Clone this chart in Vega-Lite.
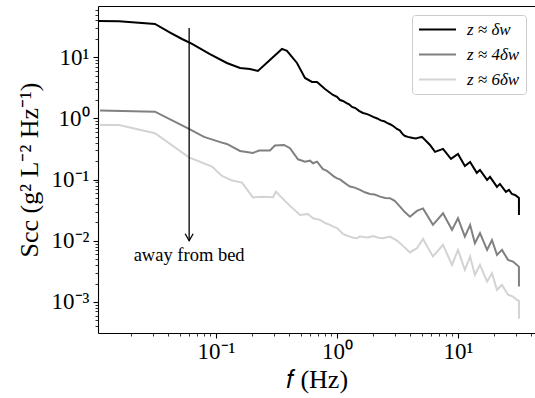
{
  "$schema": "https://vega.github.io/schema/vega-lite/v6.json",
  "width": 437,
  "height": 327,
  "autosize": {"type": "none"},
  "padding": {"left": 98, "top": 6, "right": 0, "bottom": 65},
  "config": {
    "font": "Liberation Serif",
    "view": {"stroke": null},
    "axis": {"grid": false, "domainColor": "black", "domainWidth": 1.1, "tickColor": "black", "labelColor": "black", "titleColor": "black", "labelFontSize": 23, "titleFontSize": 26, "titleFontWeight": "normal", "labelFont": "Liberation Serif", "titleFont": "Liberation Serif"}
  },
  "datasets": {
    "spec": [
      {"s": "z ≈ δw", "i": 1, "f": 0.0106, "S": 39.2},
      {"s": "z ≈ δw", "i": 2, "f": 0.0158, "S": 38.8},
      {"s": "z ≈ δw", "i": 3, "f": 0.0313, "S": 35.0},
      {"s": "z ≈ δw", "i": 4, "f": 0.0425, "S": 24.9},
      {"s": "z ≈ δw", "i": 5, "f": 0.0524, "S": 19.9},
      {"s": "z ≈ δw", "i": 6, "f": 0.0634, "S": 16.5},
      {"s": "z ≈ δw", "i": 7, "f": 0.0891, "S": 11.3},
      {"s": "z ≈ δw", "i": 8, "f": 0.123, "S": 8.07},
      {"s": "z ≈ δw", "i": 9, "f": 0.158, "S": 6.68},
      {"s": "z ≈ δw", "i": 10, "f": 0.191, "S": 6.44},
      {"s": "z ≈ δw", "i": 11, "f": 0.222, "S": 5.97},
      {"s": "z ≈ δw", "i": 12, "f": 0.279, "S": 9.03},
      {"s": "z ≈ δw", "i": 13, "f": 0.351, "S": 13.7},
      {"s": "z ≈ δw", "i": 14, "f": 0.386, "S": 12.7},
      {"s": "z ≈ δw", "i": 15, "f": 0.467, "S": 8.07},
      {"s": "z ≈ δw", "i": 16, "f": 0.544, "S": 4.59},
      {"s": "z ≈ δw", "i": 17, "f": 0.621, "S": 3.95},
      {"s": "z ≈ δw", "i": 18, "f": 0.684, "S": 3.95},
      {"s": "z ≈ δw", "i": 19, "f": 0.796, "S": 3.03},
      {"s": "z ≈ δw", "i": 20, "f": 0.927, "S": 2.42},
      {"s": "z ≈ δw", "i": 21, "f": 1.0, "S": 2.25},
      {"s": "z ≈ δw", "i": 22, "f": 1.06, "S": 2.0},
      {"s": "z ≈ δw", "i": 23, "f": 1.12, "S": 1.93},
      {"s": "z ≈ δw", "i": 24, "f": 1.2, "S": 1.78},
      {"s": "z ≈ δw", "i": 25, "f": 1.26, "S": 1.70},
      {"s": "z ≈ δw", "i": 26, "f": 1.33, "S": 1.54},
      {"s": "z ≈ δw", "i": 27, "f": 1.42, "S": 1.48},
      {"s": "z ≈ δw", "i": 28, "f": 1.52, "S": 1.33},
      {"s": "z ≈ δw", "i": 29, "f": 1.64, "S": 1.23},
      {"s": "z ≈ δw", "i": 30, "f": 1.75, "S": 1.19},
      {"s": "z ≈ δw", "i": 31, "f": 1.86, "S": 1.13},
      {"s": "z ≈ δw", "i": 32, "f": 1.99, "S": 1.06},
      {"s": "z ≈ δw", "i": 33, "f": 2.15, "S": 1.0},
      {"s": "z ≈ δw", "i": 34, "f": 2.3, "S": 0.93},
      {"s": "z ≈ δw", "i": 35, "f": 2.45, "S": 0.90},
      {"s": "z ≈ δw", "i": 36, "f": 2.59, "S": 0.844},
      {"s": "z ≈ δw", "i": 37, "f": 2.8, "S": 0.79},
      {"s": "z ≈ δw", "i": 38, "f": 2.95, "S": 0.74},
      {"s": "z ≈ δw", "i": 39, "f": 3.13, "S": 0.673},
      {"s": "z ≈ δw", "i": 40, "f": 3.3, "S": 0.64},
      {"s": "z ≈ δw", "i": 41, "f": 3.5, "S": 0.55},
      {"s": "z ≈ δw", "i": 42, "f": 3.65, "S": 0.517},
      {"s": "z ≈ δw", "i": 43, "f": 3.85, "S": 0.50},
      {"s": "z ≈ δw", "i": 44, "f": 4.05, "S": 0.49},
      {"s": "z ≈ δw", "i": 45, "f": 4.25, "S": 0.480},
      {"s": "z ≈ δw", "i": 46, "f": 4.5, "S": 0.47},
      {"s": "z ≈ δw", "i": 47, "f": 4.8, "S": 0.49},
      {"s": "z ≈ δw", "i": 48, "f": 5.04, "S": 0.499},
      {"s": "z ≈ δw", "i": 49, "f": 5.87, "S": 0.369},
      {"s": "z ≈ δw", "i": 50, "f": 6.46, "S": 0.284},
      {"s": "z ≈ δw", "i": 51, "f": 7.52, "S": 0.318},
      {"s": "z ≈ δw", "i": 52, "f": 8.75, "S": 0.218},
      {"s": "z ≈ δw", "i": 53, "f": 10.0, "S": 0.263},
      {"s": "z ≈ δw", "i": 54, "f": 11.4, "S": 0.167},
      {"s": "z ≈ δw", "i": 55, "f": 12.6, "S": 0.195},
      {"s": "z ≈ δw", "i": 56, "f": 14.3, "S": 0.129},
      {"s": "z ≈ δw", "i": 57, "f": 15.2, "S": 0.144},
      {"s": "z ≈ δw", "i": 58, "f": 17.4, "S": 0.0989},
      {"s": "z ≈ δw", "i": 59, "f": 18.4, "S": 0.111},
      {"s": "z ≈ δw", "i": 60, "f": 21.0, "S": 0.0760},
      {"s": "z ≈ δw", "i": 61, "f": 22.2, "S": 0.0851},
      {"s": "z ≈ δw", "i": 62, "f": 24.9, "S": 0.0630},
      {"s": "z ≈ δw", "i": 63, "f": 26.4, "S": 0.0679},
      {"s": "z ≈ δw", "i": 64, "f": 27.9, "S": 0.0583},
      {"s": "z ≈ δw", "i": 65, "f": 29.6, "S": 0.0562},
      {"s": "z ≈ δw", "i": 66, "f": 31.9, "S": 0.0502},
      {"s": "z ≈ δw", "i": 67, "f": 31.9, "S": 0.0265},

      {"s": "z ≈ 4δw", "i": 1, "f": 0.0110, "S": 1.35},
      {"s": "z ≈ 4δw", "i": 2, "f": 0.0313, "S": 1.29},
      {"s": "z ≈ 4δw", "i": 3, "f": 0.0598, "S": 0.673},
      {"s": "z ≈ 4δw", "i": 4, "f": 0.0796, "S": 0.499},
      {"s": "z ≈ 4δw", "i": 5, "f": 0.110, "S": 0.406},
      {"s": "z ≈ 4δw", "i": 6, "f": 0.123, "S": 0.383},
      {"s": "z ≈ 4δw", "i": 7, "f": 0.158, "S": 0.294},
      {"s": "z ≈ 4δw", "i": 8, "f": 0.202, "S": 0.273},
      {"s": "z ≈ 4δw", "i": 9, "f": 0.227, "S": 0.298},
      {"s": "z ≈ 4δw", "i": 10, "f": 0.279, "S": 0.300},
      {"s": "z ≈ 4δw", "i": 11, "f": 0.307, "S": 0.362},
      {"s": "z ≈ 4δw", "i": 12, "f": 0.365, "S": 0.369},
      {"s": "z ≈ 4δw", "i": 13, "f": 0.409, "S": 0.326},
      {"s": "z ≈ 4δw", "i": 14, "f": 0.476, "S": 0.215},
      {"s": "z ≈ 4δw", "i": 15, "f": 0.544, "S": 0.197},
      {"s": "z ≈ 4δw", "i": 16, "f": 0.598, "S": 0.204},
      {"s": "z ≈ 4δw", "i": 17, "f": 0.634, "S": 0.185},
      {"s": "z ≈ 4δw", "i": 18, "f": 0.684, "S": 0.197},
      {"s": "z ≈ 4δw", "i": 19, "f": 0.766, "S": 0.148},
      {"s": "z ≈ 4δw", "i": 20, "f": 0.82, "S": 0.140},
      {"s": "z ≈ 4δw", "i": 21, "f": 0.875, "S": 0.127},
      {"s": "z ≈ 4δw", "i": 22, "f": 0.94, "S": 0.113},
      {"s": "z ≈ 4δw", "i": 23, "f": 1.0, "S": 0.105},
      {"s": "z ≈ 4δw", "i": 24, "f": 1.06, "S": 0.101},
      {"s": "z ≈ 4δw", "i": 25, "f": 1.12, "S": 0.0927},
      {"s": "z ≈ 4δw", "i": 26, "f": 1.2, "S": 0.084},
      {"s": "z ≈ 4δw", "i": 27, "f": 1.28, "S": 0.0769},
      {"s": "z ≈ 4δw", "i": 28, "f": 1.4, "S": 0.074},
      {"s": "z ≈ 4δw", "i": 29, "f": 1.55, "S": 0.0679},
      {"s": "z ≈ 4δw", "i": 30, "f": 1.7, "S": 0.062},
      {"s": "z ≈ 4δw", "i": 31, "f": 1.87, "S": 0.0583},
      {"s": "z ≈ 4δw", "i": 32, "f": 2.05, "S": 0.057},
      {"s": "z ≈ 4δw", "i": 33, "f": 2.27, "S": 0.0527},
      {"s": "z ≈ 4δw", "i": 34, "f": 2.5, "S": 0.050},
      {"s": "z ≈ 4δw", "i": 35, "f": 2.74, "S": 0.0497},
      {"s": "z ≈ 4δw", "i": 36, "f": 3.0, "S": 0.045},
      {"s": "z ≈ 4δw", "i": 37, "f": 3.32, "S": 0.0362},
      {"s": "z ≈ 4δw", "i": 38, "f": 3.6, "S": 0.030},
      {"s": "z ≈ 4δw", "i": 39, "f": 4.01, "S": 0.0248},
      {"s": "z ≈ 4δw", "i": 40, "f": 4.58, "S": 0.0308},
      {"s": "z ≈ 4δw", "i": 41, "f": 5.14, "S": 0.0338},
      {"s": "z ≈ 4δw", "i": 42, "f": 6.21, "S": 0.0182},
      {"s": "z ≈ 4δw", "i": 43, "f": 7.52, "S": 0.0282},
      {"s": "z ≈ 4δw", "i": 44, "f": 8.92, "S": 0.0151},
      {"s": "z ≈ 4δw", "i": 45, "f": 10.0, "S": 0.0234},
      {"s": "z ≈ 4δw", "i": 46, "f": 11.4, "S": 0.0117},
      {"s": "z ≈ 4δw", "i": 47, "f": 12.6, "S": 0.0182},
      {"s": "z ≈ 4δw", "i": 48, "f": 13.8, "S": 0.00914},
      {"s": "z ≈ 4δw", "i": 49, "f": 15.2, "S": 0.0133},
      {"s": "z ≈ 4δw", "i": 50, "f": 17.4, "S": 0.00710},
      {"s": "z ≈ 4δw", "i": 51, "f": 19.1, "S": 0.0103},
      {"s": "z ≈ 4δw", "i": 52, "f": 21.0, "S": 0.00589},
      {"s": "z ≈ 4δw", "i": 53, "f": 23.1, "S": 0.00710},
      {"s": "z ≈ 4δw", "i": 54, "f": 25.9, "S": 0.00488},
      {"s": "z ≈ 4δw", "i": 55, "f": 28.5, "S": 0.00457},
      {"s": "z ≈ 4δw", "i": 56, "f": 30.7, "S": 0.00404},
      {"s": "z ≈ 4δw", "i": 57, "f": 31.9, "S": 0.00375},
      {"s": "z ≈ 4δw", "i": 58, "f": 31.9, "S": 0.00179},

      {"s": "z ≈ 6δw", "i": 1, "f": 0.0110, "S": 0.783},
      {"s": "z ≈ 6δw", "i": 2, "f": 0.0158, "S": 0.783},
      {"s": "z ≈ 6δw", "i": 3, "f": 0.0313, "S": 0.573},
      {"s": "z ≈ 6δw", "i": 4, "f": 0.0598, "S": 0.231},
      {"s": "z ≈ 6δw", "i": 5, "f": 0.0927, "S": 0.163},
      {"s": "z ≈ 6δw", "i": 6, "f": 0.112, "S": 0.115},
      {"s": "z ≈ 6δw", "i": 7, "f": 0.136, "S": 0.0964},
      {"s": "z ≈ 6δw", "i": 8, "f": 0.164, "S": 0.0893},
      {"s": "z ≈ 6δw", "i": 9, "f": 0.202, "S": 0.0512},
      {"s": "z ≈ 6δw", "i": 10, "f": 0.240, "S": 0.0527},
      {"s": "z ≈ 6δw", "i": 11, "f": 0.296, "S": 0.0515},
      {"s": "z ≈ 6δw", "i": 12, "f": 0.313, "S": 0.0637},
      {"s": "z ≈ 6δw", "i": 13, "f": 0.338, "S": 0.0542},
      {"s": "z ≈ 6δw", "i": 14, "f": 0.409, "S": 0.0372},
      {"s": "z ≈ 6δw", "i": 15, "f": 0.495, "S": 0.0265},
      {"s": "z ≈ 6δw", "i": 16, "f": 0.575, "S": 0.0275},
      {"s": "z ≈ 6δw", "i": 17, "f": 0.634, "S": 0.0234},
      {"s": "z ≈ 6δw", "i": 18, "f": 0.724, "S": 0.0220},
      {"s": "z ≈ 6δw", "i": 19, "f": 0.80, "S": 0.0195},
      {"s": "z ≈ 6δw", "i": 20, "f": 0.875, "S": 0.0182},
      {"s": "z ≈ 6δw", "i": 21, "f": 0.93, "S": 0.0170},
      {"s": "z ≈ 6δw", "i": 22, "f": 1.0, "S": 0.0161},
      {"s": "z ≈ 6δw", "i": 23, "f": 1.12, "S": 0.0130},
      {"s": "z ≈ 6δw", "i": 24, "f": 1.2, "S": 0.0122},
      {"s": "z ≈ 6δw", "i": 25, "f": 1.28, "S": 0.0117},
      {"s": "z ≈ 6δw", "i": 26, "f": 1.37, "S": 0.0112},
      {"s": "z ≈ 6δw", "i": 27, "f": 1.46, "S": 0.0110},
      {"s": "z ≈ 6δw", "i": 28, "f": 1.55, "S": 0.0118},
      {"s": "z ≈ 6δw", "i": 29, "f": 1.64, "S": 0.0115},
      {"s": "z ≈ 6δw", "i": 30, "f": 1.8, "S": 0.0113},
      {"s": "z ≈ 6δw", "i": 31, "f": 1.99, "S": 0.0120},
      {"s": "z ≈ 6δw", "i": 32, "f": 2.2, "S": 0.0112},
      {"s": "z ≈ 6δw", "i": 33, "f": 2.40, "S": 0.0110},
      {"s": "z ≈ 6δw", "i": 34, "f": 2.74, "S": 0.0117},
      {"s": "z ≈ 6δw", "i": 35, "f": 3.13, "S": 0.0101},
      {"s": "z ≈ 6δw", "i": 36, "f": 3.51, "S": 0.00826},
      {"s": "z ≈ 6δw", "i": 37, "f": 4.01, "S": 0.00646},
      {"s": "z ≈ 6δw", "i": 38, "f": 4.58, "S": 0.00757},
      {"s": "z ≈ 6δw", "i": 39, "f": 5.14, "S": 0.0107},
      {"s": "z ≈ 6δw", "i": 40, "f": 6.21, "S": 0.00556},
      {"s": "z ≈ 6δw", "i": 41, "f": 7.52, "S": 0.00857},
      {"s": "z ≈ 6δw", "i": 42, "f": 8.92, "S": 0.00404},
      {"s": "z ≈ 6δw", "i": 43, "f": 10.0, "S": 0.00710},
      {"s": "z ≈ 6δw", "i": 44, "f": 11.4, "S": 0.00335},
      {"s": "z ≈ 6δw", "i": 45, "f": 12.6, "S": 0.00552},
      {"s": "z ≈ 6δw", "i": 46, "f": 13.8, "S": 0.00277},
      {"s": "z ≈ 6δw", "i": 47, "f": 15.2, "S": 0.00404},
      {"s": "z ≈ 6δw", "i": 48, "f": 17.4, "S": 0.00215},
      {"s": "z ≈ 6δw", "i": 49, "f": 19.1, "S": 0.00296},
      {"s": "z ≈ 6δw", "i": 50, "f": 21.0, "S": 0.00158},
      {"s": "z ≈ 6δw", "i": 51, "f": 23.1, "S": 0.00190},
      {"s": "z ≈ 6δw", "i": 52, "f": 25.9, "S": 0.00131},
      {"s": "z ≈ 6δw", "i": 53, "f": 28.5, "S": 0.00122},
      {"s": "z ≈ 6δw", "i": 54, "f": 30.7, "S": 0.00108},
      {"s": "z ≈ 6δw", "i": 55, "f": 31.9, "S": 0.00104},
      {"s": "z ≈ 6δw", "i": 56, "f": 31.9, "S": 0.00053}
    ],
    "arrow": [{"f": 0.06, "top": 30, "tip": 0.01, "label": "away from bed", "ty": 0.0058}]
  },
  "resolve": {"axis": {"x": "independent"}},
  "layer": [
    {
      "data": {"name": "spec"},
      "mark": {"type": "line", "strokeWidth": 2, "clip": true},
      "encoding": {
        "x": {"field": "f", "type": "quantitative",
          "scale": {"type": "log", "domain": [0.01059, 43.3], "nice": false, "zero": false},
          "axis": {"title": "𝑓 (Hz)", "titlePadding": 3, "labelPadding": 2, "labelBaseline": "top",
            "values": [0.02,0.03,0.04,0.05,0.06,0.07,0.08,0.09,0.1,0.2,0.3,0.4,0.5,0.6,0.7,0.8,0.9,1,2,3,4,5,6,7,8,9,10,20,30,40],
            "labelExpr": "datum.value == 0.1 ? '10⁻¹' : datum.value == 1 ? '10⁰' : datum.value == 10 ? '10¹' : ''",
            "tickSize": {"condition": {"test": "datum.value == 0.1 || datum.value == 1 || datum.value == 10", "value": 5}, "value": 3},
            "tickWidth": {"condition": {"test": "datum.value == 0.1 || datum.value == 1 || datum.value == 10", "value": 1.1}, "value": 0.8},
            "labelFlush": false, "labelOverlap": false}},
        "y": {"field": "S", "type": "quantitative",
          "scale": {"type": "log", "domain": [0.000311, 68.9], "nice": false, "zero": false},
          "axis": {"title": "Scc (g² L⁻² Hz⁻¹)", "titlePadding": 9, "labelPadding": 4,
            "values": [0.0004,0.0005,0.0006,0.0007,0.0008,0.0009,0.001,0.002,0.003,0.004,0.005,0.006,0.007,0.008,0.009,0.01,0.02,0.03,0.04,0.05,0.06,0.07,0.08,0.09,0.1,0.2,0.3,0.4,0.5,0.6,0.7,0.8,0.9,1,2,3,4,5,6,7,8,9,10,20,30,40,50,60],
            "labelExpr": "datum.value == 0.001 ? '10⁻³' : datum.value == 0.01 ? '10⁻²' : datum.value == 0.1 ? '10⁻¹' : datum.value == 1 ? '10⁰' : datum.value == 10 ? '10¹' : ''",
            "tickSize": {"condition": {"test": "datum.value == 0.001 || datum.value == 0.01 || datum.value == 0.1 || datum.value == 1 || datum.value == 10", "value": 5}, "value": 3},
            "tickWidth": {"condition": {"test": "datum.value == 0.001 || datum.value == 0.01 || datum.value == 0.1 || datum.value == 1 || datum.value == 10", "value": 1.1}, "value": 0.8},
            "labelFlush": false, "labelOverlap": false}},
        "color": {"field": "s", "type": "nominal",
          "scale": {"domain": ["z ≈ δw", "z ≈ 4δw", "z ≈ 6δw"], "range": ["#000000", "#808080", "#d3d3d3"]},
          "legend": {"title": null, "orient": "none", "legendX": 314, "legendY": 9,
            "symbolType": "stroke", "symbolSize": 1369, "symbolStrokeWidth": 2, "clipHeight": 17,
            "labelFontSize": 17, "labelFont": "Liberation Serif", "labelFontStyle": "italic", "labelOffset": 10,
            "padding": 6, "rowPadding": 7, "strokeColor": "#cccccc", "fillColor": "white", "cornerRadius": 3}},
        "order": {"field": "i", "type": "quantitative"}
      }
    },
    {
      "data": {"name": "arrow"},
      "mark": {"type": "rule", "color": "black", "strokeWidth": 1.3},
      "encoding": {
        "x": {"field": "f", "type": "quantitative", "axis": {"orient": "top", "labels": false, "ticks": false, "title": null, "domain": true, "domainColor": "black", "domainWidth": 1.1}},
        "y": {"field": "top", "type": "quantitative"},
        "y2": {"field": "tip"}
      }
    },
    {
      "data": {"name": "arrow"},
      "mark": {"type": "point", "shape": "M-1,-1.75L0,0L1,-1.75", "size": 64, "filled": false, "stroke": "black", "strokeWidth": 1.3, "opacity": 1},
      "encoding": {
        "x": {"field": "f", "type": "quantitative", "axis": null},
        "y": {"field": "tip", "type": "quantitative"}
      }
    },
    {
      "data": {"name": "arrow"},
      "mark": {"type": "text", "font": "Liberation Serif", "fontSize": 18.5, "align": "center", "baseline": "middle", "color": "black"},
      "encoding": {
        "x": {"field": "f", "type": "quantitative", "axis": null},
        "y": {"field": "ty", "type": "quantitative"},
        "text": {"field": "label"}
      }
    }
  ]
}
